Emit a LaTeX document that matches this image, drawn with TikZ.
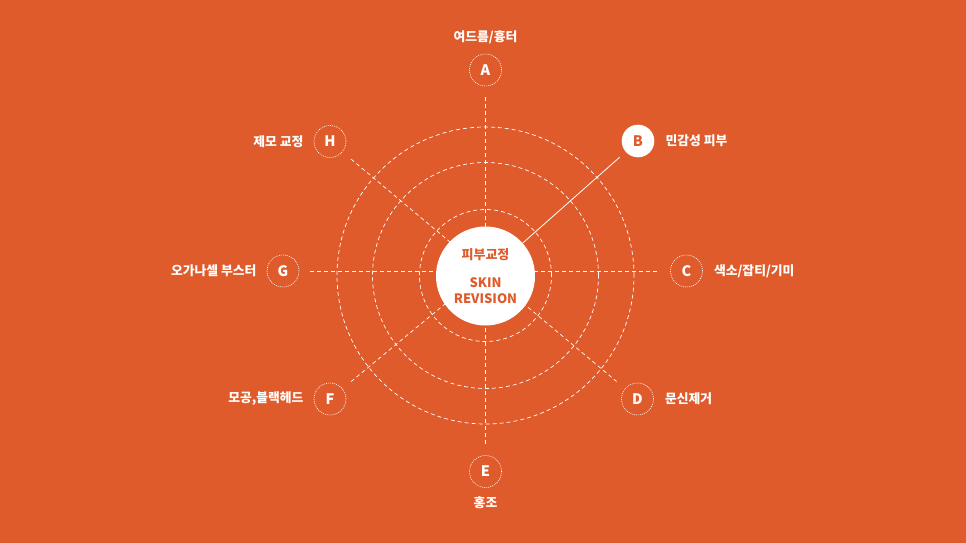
\documentclass[tikz,border=0pt]{standalone}
\usepackage{fontspec}
\setmainfont{Noto Sans CJK KR}
\usetikzlibrary{positioning}
\definecolor{skinorange}{RGB}{224,91,43}
\tikzset{
	letter/.style={circle,draw=white,line width=0.6pt,dash pattern=on 1pt off 1pt,minimum size=32pt,inner sep=0pt,text=white,font=\bfseries\fontsize{14.5}{14.5}\selectfont},
	chosen/.style={letter,solid,fill=white,text=skinorange},
	tag/.style={inner sep=0pt,text=white,font=\bfseries\fontsize{12.8}{12.8}\selectfont},
	spoke/.style={white,line width=0.7pt,dash pattern=on 4pt off 3pt,shorten <=11pt,shorten >=11pt},
	ring/.style={white,line width=0.7pt,dash pattern=on 4pt off 3pt},
	core/.style={circle,fill=white,minimum size=99pt,inner sep=0pt,align=center,text=skinorange,font=\bfseries\fontsize{13}{16}\selectfont}
}
\begin{document}
\begin{tikzpicture}[x=1pt,y=-1pt]
		\fill[skinorange] (0,0) rectangle (966,543);
		% the eight points
		\node[letter] (A) at (485.5,70) {A};
		\node[chosen] (B) at (638,141) {B};
		\node[letter] (C) at (686.5,271) {C};
		\node[letter] (D) at (637.5,399) {D};
		\node[letter] (E) at (485.5,471.5) {E};
		\node[letter] (F) at (330,399) {F};
		\node[letter] (G) at (283,271) {G};
		\node[letter] (H) at (330,141.5) {H};
		\coordinate (hub) at (485.5,270.5);
		\draw[spoke] (A) -- (E);
		\draw[spoke] (G) -- (C);
		\draw[spoke] (H) -- (D);
		\draw[spoke,shorten >=0pt] (F) -- (hub);
		\foreach \r in {66,113,148.5}
		\draw[ring] (485.5,275.5) circle[radius=\r pt];
		\node[core] (core) at (485.5,276) {피부교정\\[11.5pt]SKIN\\REVISION};
		\draw[white,line width=0.8pt,shorten <=8pt] (B) -- (core);
		% labels
		\node[tag,above=10pt of A] (tA) {여드름/흉터};
		\node[tag,right=11pt of B] (tB) {민감성 피부};
		\node[tag,right=11pt of C] (tC) {색소/잡티/기미};
		\node[tag,right=11pt of D] (tD) {문신제거};
		\node[tag,below=9pt of E] (tE) {홍조};
		\node[tag,left=10pt of F] (tF) {모공,블랙헤드};
		\node[tag,left=10pt of G] (tG) {오가나셀 부스터};
		\node[tag,left=10pt of H] (tH) {제모 교정};
\end{tikzpicture}
\end{document}
